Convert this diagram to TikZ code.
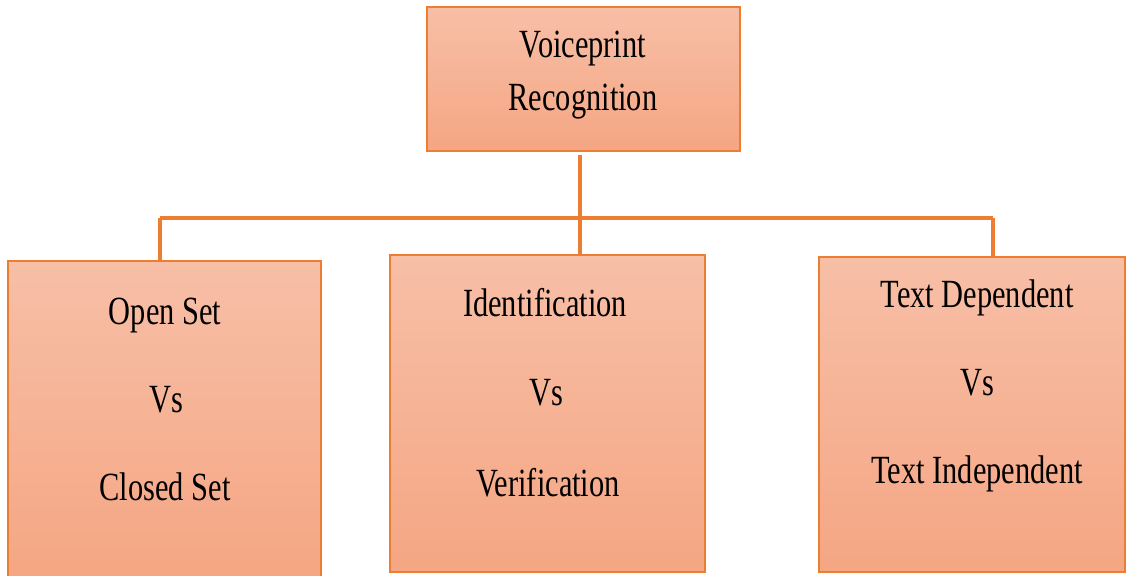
\documentclass[tikz,border=0pt]{standalone}
\usepackage{fontspec}
\setmainfont{Liberation Serif}[FakeStretch=0.76]
\definecolor{accent}{HTML}{ED7D31}
\definecolor{filltop}{HTML}{F7BFA7}
\definecolor{fillbot}{HTML}{F5A683}
\tikzset{
  box/.style={draw=accent, line width=1.5pt, top color=filltop, bottom color=fillbot,
              rectangle, inner sep=0pt},
  label/.style={anchor=base, inner sep=0pt, font=\fontsize{30}{36}\selectfont, text=black},
  link/.style={draw=accent, line width=2.4pt},
  bar/.style={draw=accent, line width=3.6pt}
}
\begin{document}
\begin{tikzpicture}[x=0.75pt, y=-0.75pt]
\useasboundingbox (0,0) rectangle (1126,575);
\fill[white] (0,0) rectangle (1126,575);

% boxes
\node[box, minimum width=234.75pt, minimum height=108pt] (root) at (583.5,79) {};
\node[box, minimum width=234.75pt, minimum height=237.75pt] (openset) at (164.5,419.5) {};
\node[box, minimum width=236.25pt, minimum height=237.75pt] (ident) at (547.5,413.5) {};
\node[box, minimum width=229.5pt, minimum height=236.25pt] (textdep) at (972,414.5) {};

% connectors
\coordinate (barL) at (160,218);
\coordinate (barR) at (993,218);
\coordinate (stemTop) at (580,155);
\draw[bar] (barL) -- (barR);
\draw[link] (stemTop) -- (stemTop |- ident.north);
\draw[link] (barL |- openset.north) -- (barL);
\draw[link] (barR |- textdep.north) -- (barR);

% texts
\node[label] (t1) at (583,57) {Voiceprint};
\node[label] (t2) at (583,110) {Recognition};

\node[label] (o1) at (165,324) {Open Set};
\node[label] (o2) at (166,412) {Vs};
\node[label] (o3) at (165,500) {Closed Set};

\node[label] (i1) at (545,316) {Identification};
\node[label] (i2) at (546,405) {Vs};
\node[label] (i3) at (548,496) {Verification};

\node[label] (d1) at (977,307) {Text Dependent};
\node[label] (d2) at (977,395) {Vs};
\node[label] (d3) at (977,483) {Text Independent};
\end{tikzpicture}
\end{document}
